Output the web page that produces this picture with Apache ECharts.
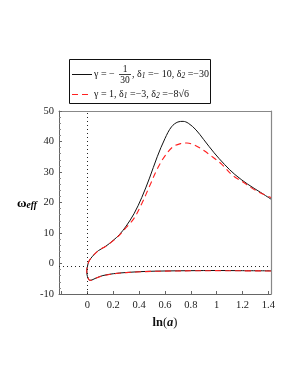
<!DOCTYPE html>
<html><head><meta charset="utf-8">
<script src="https://cdn.jsdelivr.net/npm/echarts@6/dist/echarts.min.js"></script>
<style>html,body{margin:0;padding:0;background:#fff}#c{width:298px;height:385px}</style>
</head><body><div id="c"></div>
<script>
// ln(a), omega_eff pairs (parametric curve, traced in order)
const blackX = [1.42,1.2,1.0,0.8,0.6,0.45,0.3,0.2,0.12,0.07,0.035,0.018,0.006,-0.004,-0.005,0.0,0.005,0.015,0.04,0.084,0.14,0.2,0.25,0.3,0.36,0.42,0.48,0.54,0.6,0.65,0.7,0.74,0.78,0.84,0.9,0.98,1.06,1.14,1.24,1.34,1.42];
const blackY = [-2.4,-2.35,-2.3,-2.35,-2.45,-2.6,-2.95,-3.35,-3.95,-4.7,-5.4,-5.5,-4.9,-3.5,-2.2,-1.0,0.0,1.0,2.4,4.2,5.6,7.6,9.6,12.3,16.3,21.6,28.0,35.0,41.0,44.8,46.4,46.6,46.0,43.8,40.6,36.3,32.5,29.2,26.0,23.3,21.1];
const redX = [1.42,1.2,1.0,0.8,0.6,0.45,0.3,0.2,0.12,0.07,0.035,0.018,0.006,-0.004,-0.005,0.0,0.005,0.015,0.04,0.084,0.14,0.2,0.25,0.3,0.36,0.42,0.48,0.54,0.6,0.66,0.72,0.77,0.82,0.88,0.96,1.04,1.12,1.2,1.3,1.42];
const redY = [-2.45,-2.4,-2.35,-2.4,-2.5,-2.65,-3.0,-3.4,-4.0,-4.75,-5.4,-5.5,-4.9,-3.5,-2.2,-1.0,0.0,1.0,2.4,4.2,5.6,7.5,9.4,11.8,14.8,19.6,25.3,31.0,35.3,38.2,39.3,39.5,39.0,37.6,35.2,32.5,29.0,26.8,24.0,21.6];
const xTicks = [-0.2,0,0.2,0.4,0.6,0.8,1,1.2,1.4];
const xLabels = [0,0.2,0.4,0.6,0.8,1,1.2,1.4];
const refX = 0, refY = -1;
const xMin = -0.22, xMax = 1.42, yMin = -10, yMax = 50, yStep = 10;

const zip = (a,b)=>a.map((v,i)=>[v,b[i]]);
const serif = '"Liberation Serif","DejaVu Serif",serif';
const chart = echarts.init(document.getElementById('c'), null, {renderer:'canvas'});
const frameAxis = {show:true,axisLine:{show:true,onZero:false,lineStyle:{color:'#888',width:1.2}},axisTick:{show:false},axisLabel:{show:false},splitLine:{show:false}};
chart.setOption({
  animation:false,
  grid:{left:59,right:27,top:111,bottom:91},
  xAxis:[{type:'value',min:xMin,max:xMax,
    axisLine:{show:true,onZero:false,lineStyle:{color:'#666',width:1}},
    axisTick:{show:true,inside:true,length:3,customValues:xTicks,lineStyle:{color:'#666'}},
    axisLabel:{customValues:xLabels,color:'#222',fontFamily:serif,fontSize:10.5,margin:6,
      formatter:v=>String(v)},
    splitLine:{show:false},
    name:'{b|ln}{p|(}{i|a}{p|)}',nameLocation:'middle',nameGap:22,
    nameTextStyle:{rich:{b:{fontFamily:serif,fontWeight:'bold',fontSize:12.5,color:'#111'},
      p:{fontFamily:serif,fontSize:12.5,color:'#111'},
      i:{fontFamily:serif,fontWeight:'bold',fontStyle:'italic',fontSize:12.5,color:'#111'}}}
  },
  Object.assign({type:'value',position:'top',min:xMin,max:xMax},frameAxis)],
  yAxis:[{type:'value',min:yMin,max:yMax,interval:yStep,
    axisLine:{show:true,onZero:false,lineStyle:{color:'#666',width:1}},
    axisTick:{show:true,inside:true,length:3,lineStyle:{color:'#666'}},
    minorTick:{show:true,splitNumber:5,length:2,lineStyle:{color:'#888'}},
    axisLabel:{color:'#222',fontFamily:serif,fontSize:10.5,margin:5},
    splitLine:{show:false}
  },
  Object.assign({type:'value',position:'right',min:yMin,max:yMax,interval:yStep},frameAxis)],
  series:[
    {type:'line',name:'black',data:zip(blackX,blackY),symbol:'none',smooth:0.35,lineStyle:{color:'#111',width:1},
      markLine:{silent:true,symbol:'none',label:{show:false},lineStyle:{color:'#222',width:1,type:[1,3]},
        data:[{xAxis:refX},{yAxis:refY}]}},
    {type:'line',name:'red',data:zip(redX,redY),symbol:'none',smooth:0.35,lineStyle:{color:'#ff2020',width:1.1,type:[6,4]}}
  ],
  graphic:[
    {type:'text',left:17,top:197,style:{text:'{w|ω}{e|eff}',rich:{
      w:{fontFamily:serif,fontWeight:'bold',fontSize:13,color:'#111'},
      e:{fontFamily:serif,fontWeight:'bold',fontStyle:'italic',fontSize:9.5,color:'#111',padding:[4,0,0,0]}}}},
    {type:'rect',shape:{x:69.5,y:59.5,width:141,height:44},style:{fill:'#fff',stroke:'#111',lineWidth:1}},
    {type:'line',shape:{x1:72,y1:74.5,x2:92,y2:74.5},style:{stroke:'#111',lineWidth:1}},
    {type:'line',shape:{x1:72,y1:94.5,x2:92,y2:94.5},style:{stroke:'#ff2020',lineWidth:1.1,lineDash:[6,4]}},
    {type:'text',x:94,y:74.5,style:{text:'γ = −',fontFamily:serif,fontSize:10,fill:'#111',verticalAlign:'middle'}},
    {type:'text',x:125,y:69,style:{text:'1',fontFamily:serif,fontSize:9.5,fill:'#111',align:'center',verticalAlign:'middle'}},
    {type:'line',shape:{x1:119,y1:74.5,x2:131,y2:74.5},style:{stroke:'#111',lineWidth:0.8}},
    {type:'text',x:125,y:80.5,style:{text:'30',fontFamily:serif,fontSize:9.5,fill:'#111',align:'center',verticalAlign:'middle'}},
    {type:'text',x:132,y:74.5,style:{text:'{t|, δ}{s|1}{t| =− 10, δ}{s|2}{t| =−30}',verticalAlign:'middle',rich:{
      t:{fontFamily:serif,fontSize:10,fill:'#111'},s:{fontFamily:serif,fontStyle:'italic',fontSize:7.5,fill:'#111',padding:[3,0,0,0]}}}},
    {type:'text',x:94,y:94.5,style:{text:'{t|γ = 1, δ}{s|1}{t| =−3, δ}{s|2}{t| =−8√6}',verticalAlign:'middle',rich:{
      t:{fontFamily:serif,fontSize:10,fill:'#111'},s:{fontFamily:serif,fontStyle:'italic',fontSize:7.5,fill:'#111',padding:[3,0,0,0]}}}}
  ]
});
</script></body></html>
